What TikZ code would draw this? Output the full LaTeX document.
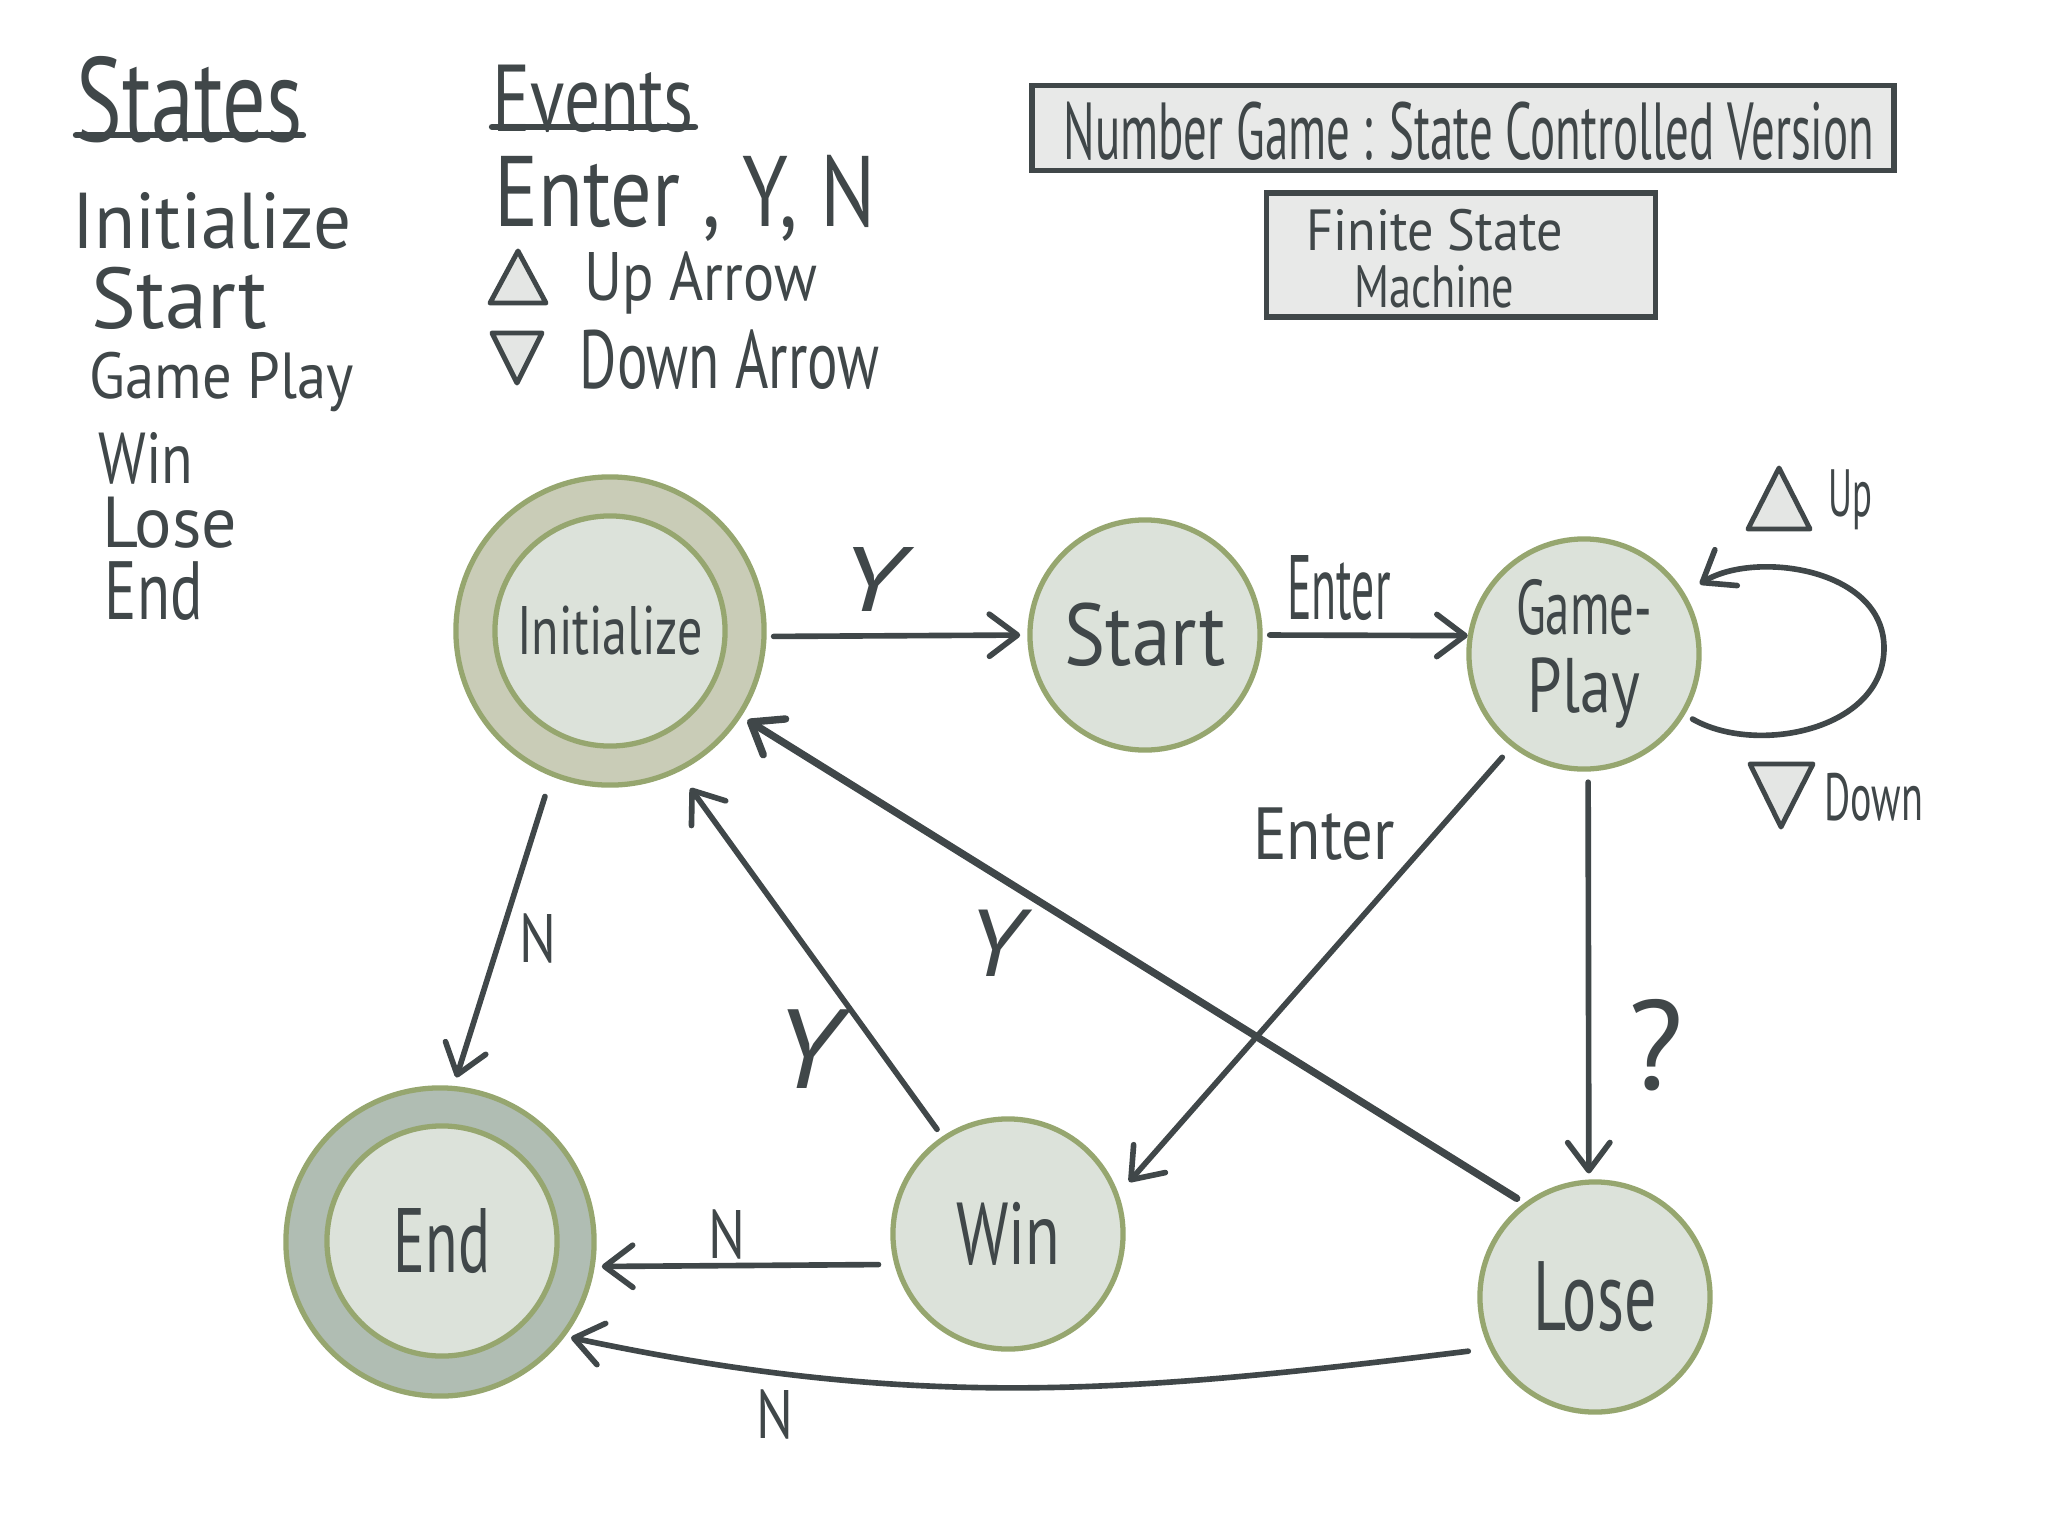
\documentclass[tikz,border=0pt]{standalone}
\usepackage{fontspec}
\setmainfont{PT Sans}
\usetikzlibrary{arrows.meta}
\definecolor{ink}{HTML}{404749}
\definecolor{ring}{HTML}{96A66F}
\definecolor{statefill}{HTML}{DCE2DA}
\definecolor{initring}{HTML}{C9CCB7}
\definecolor{endring}{HTML}{B0BDB3}
\definecolor{boxfill}{HTML}{E8E9E8}
\definecolor{trifill}{HTML}{E4E6E4}
\newcommand\hw[3]{\scalebox{#2}[1]{\fontsize{#1}{#1}\selectfont #3}}
\begin{document}
\begin{tikzpicture}[x=0.01cm, y=-0.01cm,
  state/.style={circle, draw=ring, line width=1.5pt, fill=statefill, minimum size=2.30cm, inner sep=0, text=ink},
  outerstate/.style={circle, draw=ring, line width=1.5pt, minimum size=3.08cm, inner sep=0},
  txt/.style={inner sep=0, text=ink, anchor=base west},
  lbl/.style={inner sep=0, text=ink},
  edge/.style={draw=ink, line width=1.6pt, line cap=round, -{Straight Barb[length=8pt,width=12pt,round]}},
  tri/.style={draw=ink, fill=trifill, line width=1.4pt, line join=round},
  box/.style={draw=ink, fill=boxfill, line width=1.6pt, inner sep=0},
  uline/.style={draw=ink, line width=1.8pt, line cap=round}]
\useasboundingbox[fill=white] (0,0) rectangle (2048,1536);

% legend: states
\node[txt] (hStates) at (76,141) {\hw{34}{0.72}{States}};
\draw[uline] (hStates.south west) ++(0,-8) -- ++(227,0);
\node[txt] (sInit) at (72,248) {\hw{22.5}{0.95}{Initialize}};
\node[txt] (sStart) at (91,328) {\hw{24.5}{0.98}{Start}};
\node[txt] (sGame) at (89,398) {\hw{18.5}{0.9}{Game Play}};
\node[txt] (sWin) at (98,483) {\hw{20.5}{0.8}{Win}};
\node[txt] (sLose) at (102,547) {\hw{20.5}{0.97}{Lose}};
\node[txt] (sEnd) at (104,619) {\hw{23.5}{0.73}{End}};

% legend: events
\node[txt] (hEvents) at (492,131) {\hw{27}{0.75}{Events}};
\draw[uline] (hEvents.south west) ++(0,-6) -- ++(203,0);
\node[txt] (eKeys) at (494,226) {\hw{28.5}{0.82}{Enter , Y, N}};
\draw[tri] (490,303) -- (518,251) -- (546,303) -- cycle;
\node[txt] (eUp) at (584,300) {\hw{19.5}{0.85}{Up Arrow}};
\draw[tri] (492,333) -- (542,333) -- (517,383) -- cycle;
\node[txt] (eDown) at (579,388) {\hw{23.5}{0.69}{Down Arrow}};

% title boxes
\node[box, minimum width=8.62cm, minimum height=0.85cm] (title) at (1463,128) {};
\node[lbl] (titleText) at (1469,131) {\hw{23}{0.58}{Number Game : State Controlled Version}};
\node[box, minimum width=3.89cm, minimum height=1.24cm] (fsm) at (1461,255) {};
\node[txt] (fsm1) at (1306,250) {\hw{16.5}{0.9}{Finite State}};
\node[txt] (fsm2) at (1354,307) {\hw{17}{0.74}{Machine}};

% states
\node[outerstate, fill=initring] (init) at (610,631) {};
\node[state] (initin) at (610,631) {\hw{19.5}{0.73}{Initialize}};
\node[outerstate, fill=endring] (end) at (440,1242) {};
\node[state] (endin) at (442,1241) {\hw{26}{0.65}{End}};
\node[state] (start) at (1145,635) {\hw{25}{0.88}{Start}};
\node[state, align=center, font={\fontsize{22}{22}\selectfont}] (gp) at (1584,654) {\hw{22}{0.63}{Game-}\\\hw{22}{0.8}{Play}};
\node[state] (win) at (1008,1234) {\hw{25}{0.72}{Win}};
\node[state] (lose) at (1595,1297) {\hw{28}{0.65}{Lose}};

% connectors
\draw[edge, shorten <=2pt, shorten >=2pt] (init.-2) -- (start.180);
\draw[edge, shorten <=2pt] (start.0) -- (gp.171);
\draw[edge, shorten <=4pt, shorten >=4.5pt] (gp.232.5) -- (win.20.5);
\draw[edge, shorten <=3pt, shorten >=1.7pt] (gp.-88) -- (lose.93);
\draw[edge, line width=2.1pt, shorten <=2.5pt, shorten >=2pt] (lose.127.8) -- (init.-33.9);
\draw[edge, shorten <=2.5pt, shorten >=5.7pt] (win.124.5) -- (init.-64.2);
\draw[edge, shorten <=6pt, shorten >=2.5pt] (init.248) -- (end.85);
\draw[edge, shorten <=4.5pt, shorten >=2pt] (win.195.5) -- (end.-9.6);
\draw[edge, shorten <=6pt, shorten >=1.7pt] (lose.206.6) to[out=187,in=-12] (end.-37.2);
\coordinate (loopR) at (1884,648);
\draw[edge, shorten <=2.5pt, shorten >=5pt] (gp.-31) to[out=-30,in=-90] (loopR) to[out=90,in=32] (gp.31.5);
\draw[tri] (1748,529) -- (1779,468) -- (1810,529) -- cycle;
\draw[tri] (1750,764) -- (1813,764) -- (1781,827) -- cycle;

% labels
\node[lbl] (lY1) at (872,579) {\itshape\hw{26}{1.3}{Y}};
\node[lbl] (lEnter1) at (1339,588) {\hw{26}{0.5}{Enter}};
\node[lbl] (lEnter2) at (1324,834) {\hw{21}{0.85}{Enter}};
\node[lbl] (lQ) at (1656,1045) {\hw{36}{1}{?}};
\node[lbl] (lY2) at (995,943) {\itshape\hw{27}{1.1}{Y}};
\node[lbl] (lY3) at (807,1049) {\itshape\hw{32}{1.1}{Y}};
\node[lbl] (lN1) at (538,938) {\hw{19.5}{0.8}{N}};
\node[lbl] (lN2) at (727,1234) {\hw{19.5}{0.8}{N}};
\node[lbl] (lN3) at (775,1414) {\hw{19.5}{0.8}{N}};
\node[lbl] (lUp) at (1850,500) {\hw{19}{0.55}{Up}};
\node[lbl] (lDown) at (1874,797) {\hw{19}{0.6}{Down}};
\end{tikzpicture}
\end{document}
